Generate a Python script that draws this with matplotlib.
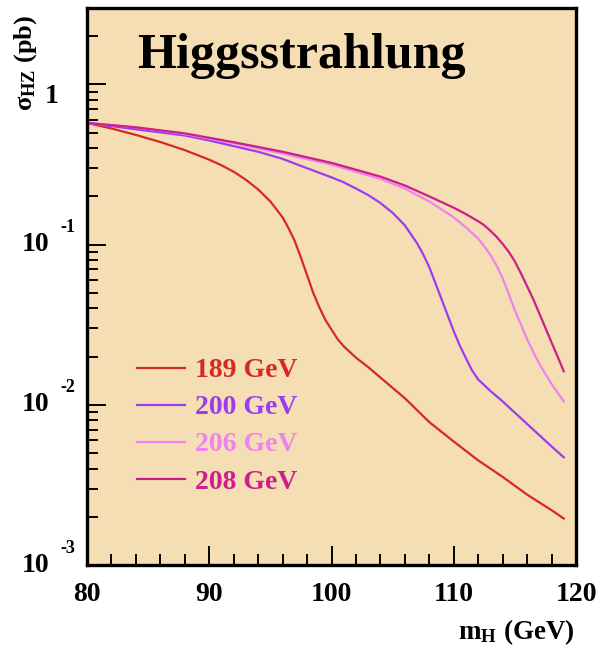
"""Higgsstrahlung cross section sigma(HZ) vs Higgs mass for four LEP energies."""
import numpy as np
import matplotlib
matplotlib.use("Agg")
import matplotlib.pyplot as plt
from matplotlib import transforms
from matplotlib.ticker import FixedLocator, LogLocator, MultipleLocator, NullFormatter

plt.rcParams["font.family"] = ["Liberation Serif", "DejaVu Serif"]
plt.rcParams["font.weight"] = "bold"
plt.rcParams["mathtext.fontset"] = "custom"
plt.rcParams["mathtext.rm"] = "Liberation Serif:bold"
plt.rcParams["mathtext.it"] = "Liberation Serif:bold:italic"
plt.rcParams["mathtext.bf"] = "Liberation Serif:bold"

# values (sigma in pb vs m_H in GeV)
m_189 = [80, 82, 84, 86, 88, 90, 91, 92, 93, 94, 95, 96, 96.5, 97, 97.5, 98,
         98.5, 99, 99.5, 100, 100.5, 101, 102, 103, 104, 106, 108, 110, 112,
         114, 116, 118, 119]
xs_189 = [0.575, 0.531, 0.484, 0.437, 0.389, 0.339, 0.313, 0.285, 0.254,
          0.221, 0.186, 0.148, 0.126, 0.105, 0.083, 0.0646, 0.0501, 0.0407,
          0.0339, 0.0295, 0.0257, 0.0232, 0.0197, 0.0172, 0.0148, 0.011,
          0.0078, 0.0059, 0.0045, 0.00355, 0.00275, 0.0022, 0.00195]

m_200 = [80, 84, 88, 90, 94, 96, 97.5, 100, 101, 102, 103, 104, 105, 106, 107,
         107.5, 108, 108.5, 109, 109.5, 110, 110.5, 111, 111.5, 112, 113, 114,
         116, 118, 119]
xs_200 = [0.575, 0.525, 0.48, 0.447, 0.38, 0.343, 0.31, 0.263, 0.245, 0.224,
          0.204, 0.182, 0.158, 0.132, 0.102, 0.087, 0.0724, 0.0575, 0.0457,
          0.0363, 0.0288, 0.0234, 0.0195, 0.0164, 0.0144, 0.0122, 0.0105,
          0.0076, 0.0055, 0.0047]

m_206 = [80, 84, 88, 92, 96, 100, 104, 106, 108, 109, 110, 111, 112, 112.5,
         113, 113.5, 114, 114.5, 115, 115.5, 116, 116.5, 117, 118, 119]
xs_206 = [0.575, 0.54, 0.49, 0.43, 0.37, 0.316, 0.257, 0.224, 0.186, 0.166,
          0.148, 0.128, 0.109, 0.0975, 0.0861, 0.0741, 0.0617, 0.049, 0.0389,
          0.0316, 0.0257, 0.0214, 0.018, 0.0135, 0.0105]

m_208 = [80, 84, 88, 92, 96, 100, 104, 106, 108, 110, 111, 112, 112.5, 113,
         113.5, 114, 114.5, 115, 115.5, 116, 116.5, 117, 117.5, 118, 118.5, 119]
xs_208 = [0.575, 0.54, 0.495, 0.436, 0.38, 0.324, 0.266, 0.234, 0.20, 0.17,
          0.155, 0.140, 0.132, 0.122, 0.112, 0.101, 0.0902, 0.0785, 0.0661,
          0.055, 0.0457, 0.0372, 0.0302, 0.0245, 0.02, 0.0162]

labels = ["189 GeV", "200 GeV", "206 GeV", "208 GeV"]
colors = ["#d42a22", "#9b3cf0", "#ee82ee", "#cc1f8c"]

y_decades = [1e-3, 1e-2, 1e-1, 1]
y_exps = ["-3", "-2", "-1", None]
x_ticks = [80, 90, 100, 110, 120]


def main():
    fig = plt.figure(figsize=(6.0, 6.52), dpi=100)
    ax = fig.add_axes([0.145, 0.1334, 0.815, 0.8543])
    ax.set_facecolor("#f5deb3")

    series = [(m_189, xs_189), (m_200, xs_200), (m_206, xs_206), (m_208, xs_208)]
    for (m, xs), lab, c in zip(series, labels, colors):
        ax.plot(m, xs, color=c, lw=1.6, label=lab)

    ax.set_yscale("log")
    ax.set_xlim(80, 120)
    ax.set_ylim(1e-3, 3.0)

    for s in ax.spines.values():
        s.set_linewidth(2.4)

    ax.xaxis.set_major_locator(FixedLocator(x_ticks))
    ax.xaxis.set_minor_locator(MultipleLocator(2))
    ax.yaxis.set_major_locator(FixedLocator(y_decades))
    ax.yaxis.set_minor_locator(LogLocator(base=10, subs=np.arange(2, 10)))
    ax.yaxis.set_major_formatter(NullFormatter())
    ax.yaxis.set_minor_formatter(NullFormatter())
    ax.tick_params(which="both", direction="in", top=False, right=False)
    ax.tick_params(which="major", length=14, width=1.4)
    ax.tick_params(which="minor", length=8, width=1.4)
    ax.tick_params(axis="x", which="major", pad=12, labelsize=20)

    # y tick labels drawn as text so the exponent can float like the original
    tr = transforms.blended_transform_factory(ax.transAxes, ax.transData)
    for val, ex in zip(y_decades, y_exps):
        if ex is None:
            ax.text(-0.058, val, "1", transform=tr, ha="right", va="top",
                    fontsize=20, clip_on=False)
            continue
        ax.text(-0.076, val, "10", transform=tr, ha="right", va="center",
                fontsize=20, clip_on=False)
        sup = transforms.offset_copy(tr, fig=fig, x=0, y=17, units="dots")
        ax.text(-0.055, val, ex, transform=sup, ha="left", va="center",
                fontsize=13, clip_on=False)

    ax.text(0.102, 0.892, "Higgsstrahlung", transform=ax.transAxes,
            fontsize=36, ha="left", va="baseline")

    ax.legend(loc="upper left", bbox_to_anchor=(0.102, 0.372),
              frameon=False, fontsize=20, labelcolor="linecolor",
              handlelength=1.75, handletextpad=0.36, labelspacing=0.42,
              borderpad=0, borderaxespad=0)

    fig.text(0.042, 0.903, r"$\mathrm{\sigma}_{\mathrm{HZ}}$ (pb)",
             rotation=90, ha="center", va="center", fontsize=19)
    fig.text(0.958, 0.031, r"m$_{\mathrm{H}}$ (GeV)", ha="right",
             va="center", fontsize=19.5)

    fig.savefig("out.png", dpi=100)
    plt.close(fig)


if __name__ == "__main__":
    main()
